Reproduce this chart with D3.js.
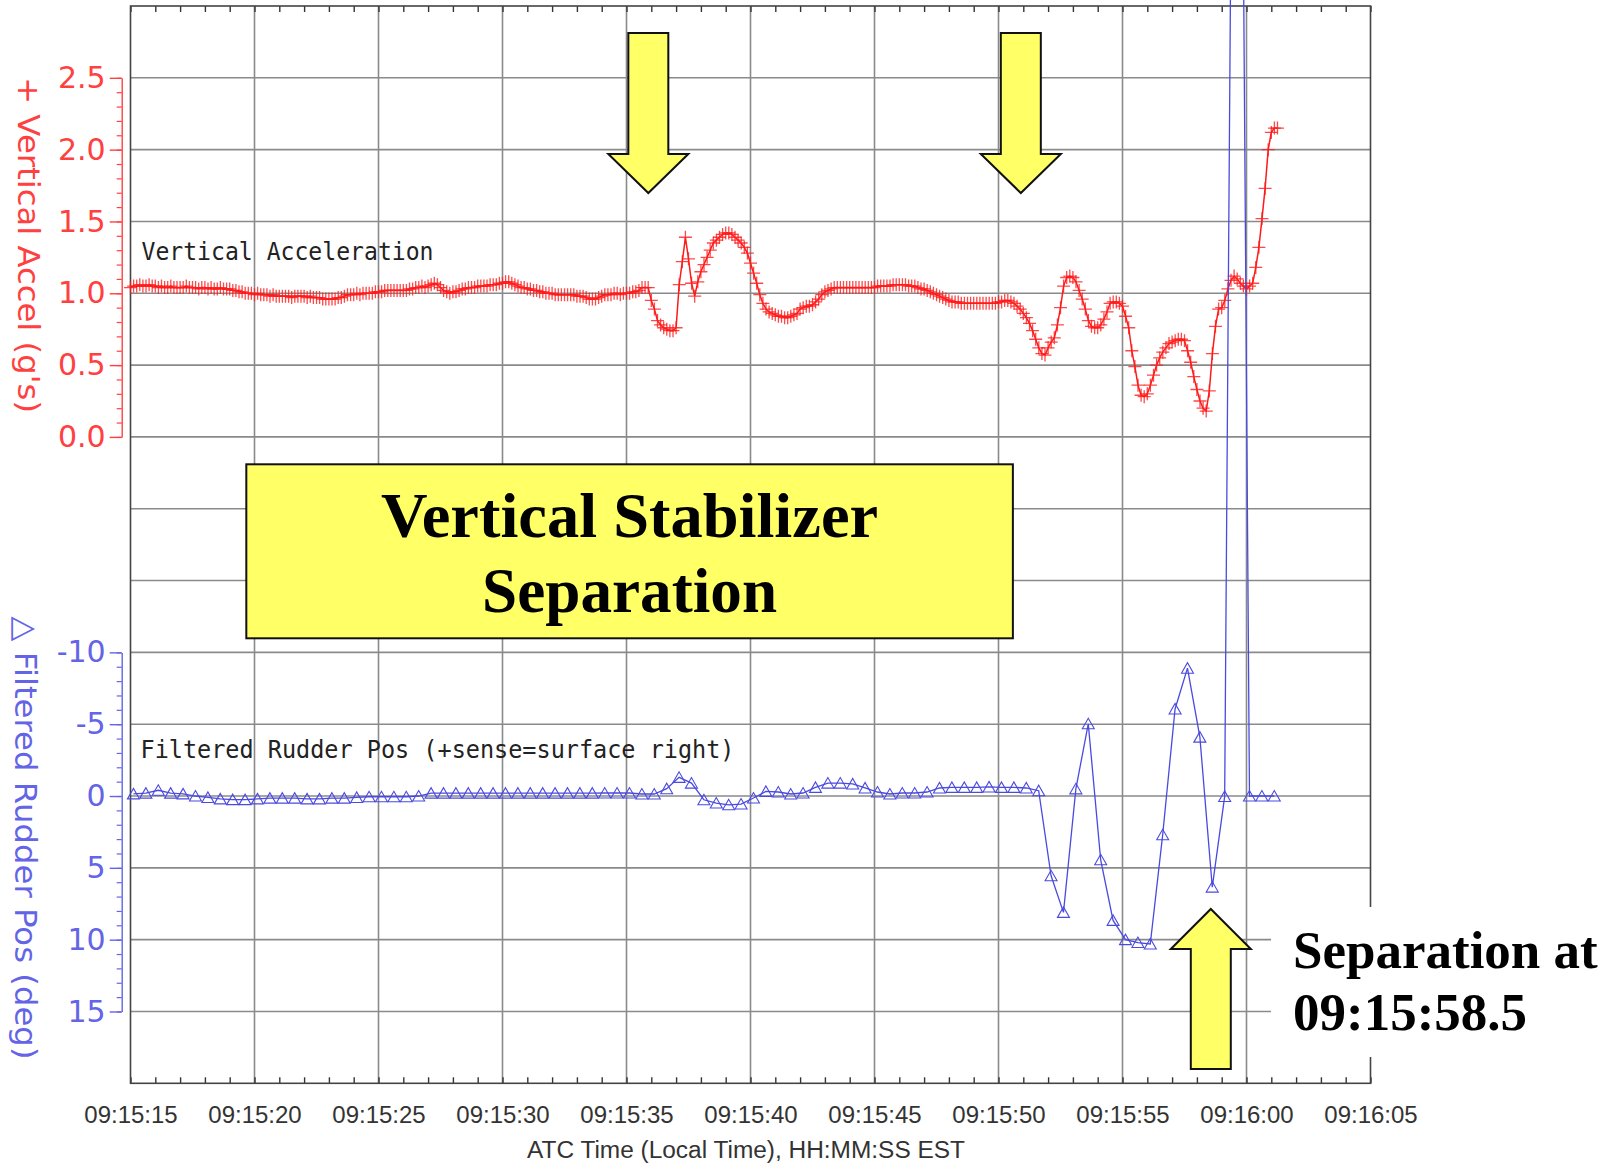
<!DOCTYPE html>
<html>
<head>
<meta charset="utf-8">
<title>Vertical Stabilizer Separation</title>
<script src="https://cdn.jsdelivr.net/npm/d3@7"></script>
<style>
  body { margin: 0; background: #fff; }
  svg { display: block; }
</style>
</head>
<body>
<svg id="chart" width="1619" height="1167"></svg>
<script>
// time axis: seconds after 09:15:15
const xTickSeconds = [0, 5, 10, 15, 20, 25, 30, 35, 40, 45, 50];
const xTickLabels = ["09:15:15", "09:15:20", "09:15:25", "09:15:30", "09:15:35", "09:15:40",
                     "09:15:45", "09:15:50", "09:15:55", "09:16:00", "09:16:05"];
const accTicks = [0, 0.5, 1, 1.5, 2, 2.5];
const rudTicks = [-10, -5, 0, 5, 10, 15];

// vertical acceleration (g), 8 samples per second from 09:15:15.0
const accStart = 0, accRate = 8;
const accValues = [
  1.04,1.05,1.05,1.06,1.05,1.05,1.06,1.05,
  1.05,1.04,1.05,1.04,1.04,1.05,1.04,1.04,
  1.04,1.04,1.05,1.04,1.04,1.04,1.03,1.04,
  1.04,1.03,1.04,1.03,1.03,1.04,1.03,1.03,
  1.03,1.02,1.02,1.01,1.01,1.00,1.00,1.00,
  0.99,1.00,0.99,0.99,0.99,0.98,0.99,0.98,
  0.98,0.98,0.98,0.98,0.97,0.98,0.98,0.98,
  0.98,0.97,0.98,0.97,0.97,0.97,0.96,0.96,
  0.96,0.96,0.96,0.97,0.97,0.98,0.99,0.99,
  0.99,1.00,0.99,1.00,1.00,1.00,1.00,1.01,
  1.01,1.01,1.02,1.02,1.02,1.02,1.02,1.02,
  1.02,1.02,1.03,1.03,1.04,1.04,1.05,1.04,
  1.05,1.06,1.07,1.06,1.04,1.02,1.01,1.00,
  1.01,1.01,1.02,1.03,1.03,1.04,1.04,1.04,
  1.05,1.05,1.05,1.05,1.06,1.06,1.06,1.07,
  1.07,1.08,1.08,1.07,1.06,1.05,1.04,1.04,
  1.03,1.03,1.02,1.02,1.01,1.01,1.00,1.00,
  1.00,0.99,0.99,0.99,0.99,0.99,0.99,0.99,
  0.98,0.98,0.98,0.97,0.96,0.96,0.96,0.97,
  0.98,0.99,0.99,0.99,1.00,1.00,0.99,1.00,
  1.00,1.00,1.01,1.01,1.02,1.04,1.04,1.04,
  0.95,0.89,0.81,0.78,0.76,0.75,0.74,0.74,
  0.76,1.06,1.22,1.39,1.24,1.07,0.98,1.08,
  1.15,1.20,1.25,1.30,1.35,1.37,1.39,1.41,
  1.42,1.42,1.41,1.39,1.37,1.35,1.32,1.28,
  1.21,1.14,1.07,0.99,0.93,0.89,0.87,0.86,
  0.85,0.84,0.84,0.83,0.83,0.84,0.85,0.86,
  0.89,0.90,0.91,0.91,0.92,0.94,0.96,0.99,
  1.01,1.02,1.03,1.04,1.04,1.04,1.04,1.04,
  1.04,1.04,1.04,1.04,1.04,1.04,1.04,1.04,
  1.04,1.05,1.05,1.05,1.05,1.05,1.06,1.06,
  1.06,1.06,1.06,1.05,1.05,1.05,1.04,1.03,
  1.03,1.02,1.01,1.00,0.99,0.98,0.97,0.96,
  0.95,0.94,0.94,0.94,0.93,0.93,0.93,0.93,
  0.93,0.93,0.93,0.93,0.93,0.93,0.93,0.93,
  0.94,0.94,0.95,0.95,0.94,0.93,0.91,0.89,
  0.86,0.83,0.79,0.74,0.68,0.62,0.58,0.57,
  0.62,0.66,0.69,0.78,0.90,1.05,1.11,1.12,
  1.11,1.08,1.02,0.96,0.89,0.81,0.77,0.76,
  0.76,0.78,0.82,0.87,0.93,0.94,0.94,0.93,
  0.91,0.84,0.76,0.60,0.49,0.36,0.29,0.28,
  0.30,0.36,0.43,0.50,0.55,0.59,0.62,0.65,
  0.66,0.67,0.68,0.68,0.67,0.60,0.52,0.42,
  0.33,0.25,0.20,0.18,0.32,0.58,0.77,0.89,
  0.90,0.95,1.03,1.09,1.12,1.10,1.07,1.05,
  1.03,1.05,1.07,1.18,1.32,1.52,1.73,2.00,
  2.12,2.15,2.15
];

// filtered rudder position (deg), 2 samples per second from 09:15:15.12
const rudStart = 0.12, rudRate = 2;
const rudValues = [
  -0.15,-0.2,-0.4,-0.2,-0.15, 0.0,0.1,0.2,0.25,0.25,
  0.2,0.15,0.15,0.15,0.2, 0.2,0.15,0.15,0.1,0.05,
  0.05,0.05,0.05,0.0,-0.2, -0.2,-0.2,-0.2,-0.2,-0.2,
  -0.2,-0.2,-0.2,-0.2,-0.2, -0.2,-0.2,-0.2,
  -0.21,-0.21,-0.21,-0.14,-0.14,-0.51,-1.30,-0.90,0.26,0.49,
  0.61,0.56,0.14,-0.32,-0.28,-0.14,-0.21,-0.60,-0.90,-0.90,
  -0.84,-0.56,-0.28,-0.14,-0.21,-0.21,-0.28,-0.56,-0.60,-0.60,
  -0.60,-0.63,-0.60,-0.60,-0.56,-0.37,
  5.55,8.1,-0.5,-5.03,4.44,8.66,10.0,10.2,10.3,2.7,
  -6.06,-8.9,-4.1,6.34,0.03,-120,0,0,0
];

// annotation arrows (seconds after 09:15:15)
const arrowTimes = [20.88, 35.9];
const separationTime = 43.5;

const svg = d3.select('#chart');
const pL = 130.5, pR = 1370.5, pT = 6, pB = 1083.3;
const rowH = (pB - pT) / 15;

const x = d3.scaleLinear().domain([0, 50]).range([pL, pR]);
const yAcc = d3.scaleLinear().domain([0, 3]).range([pT + 6 * rowH, pT]);
const yRud = d3.scaleLinear().domain([-10, 20]).range([pT + 9 * rowH, pB]);

const red = '#ff1a1a', blue = '#4a4ae0';
const sans = '"Liberation Sans", Arial, sans-serif';

// grid
const grid = svg.append('g').attr('stroke', '#8a8a8a').attr('stroke-width', 1.6);
grid.selectAll('.h').data(d3.range(-4, 2.6, 0.5)).enter().append('line')
  .attr('x1', pL).attr('x2', pR)
  .attr('y1', d => yAcc(d)).attr('y2', d => yAcc(d));
grid.selectAll('.v').data(d3.range(5, 50, 5)).enter().append('line')
  .attr('y1', pT).attr('y2', pB)
  .attr('x1', d => x(d)).attr('x2', d => x(d));

// minor time ticks, top and bottom, pointing inward
const tb = svg.append('g').attr('transform', `translate(0,${pB})`)
  .call(d3.axisBottom(x).tickValues(d3.range(0, 51)).tickSize(-6).tickSizeOuter(0).tickFormat(''));
const tt = svg.append('g').attr('transform', `translate(0,${pT})`)
  .call(d3.axisTop(x).tickValues(d3.range(0, 51)).tickSize(-6).tickSizeOuter(0).tickFormat(''));
[tb, tt].forEach(g => {
  g.select('.domain').remove();
  g.selectAll('line').attr('stroke', '#333').attr('stroke-width', 1.4);
});

// time labels
const xl = svg.append('g').attr('transform', `translate(0,${pB})`)
  .call(d3.axisBottom(x).tickValues(xTickSeconds).tickSize(0).tickPadding(23)
    .tickFormat((d, i) => xTickLabels[i]));
xl.select('.domain').remove();
xl.selectAll('text').attr('font-family', sans).attr('font-size', 24).attr('fill', '#333');

// frame
svg.append('rect').attr('x', pL).attr('y', pT)
  .attr('width', pR - pL).attr('height', pB - pT)
  .attr('fill', 'none').attr('stroke', '#444').attr('stroke-width', 1.6);

// y axes
const axX = 121.7;
function yAxis(scale, lo, hi, ticks, minorStep, fmt, color) {
  const s = scale.copy().domain([lo, hi]).range([scale(lo), scale(hi)]);
  const g = svg.append('g').attr('transform', `translate(${axX},0)`)
    .call(d3.axisLeft(s).tickValues(ticks).tickSize(12).tickSizeOuter(0).tickPadding(4).tickFormat(fmt));
  g.select('.domain').attr('stroke', color).attr('stroke-width', 1.4);
  g.selectAll('line').attr('stroke', color).attr('stroke-width', 1.4);
  g.selectAll('text').attr('font-family', '"DejaVu Sans", sans-serif').attr('font-size', 30)
    .attr('fill', color);
  const m = svg.append('g').attr('transform', `translate(${axX},0)`)
    .call(d3.axisLeft(s).tickValues(d3.range(lo, hi + minorStep / 2, minorStep)).tickSize(5).tickFormat(''));
  m.select('.domain').remove();
  m.selectAll('line').attr('stroke', color).attr('stroke-width', 1.2);
}
yAxis(yAcc, 0, 2.5, accTicks, 0.1, d3.format('.1f'), '#ff4040');
yAxis(yRud, -10, 15, rudTicks, 1, d => String(d), '#6464e6');

// axis titles
svg.append('text').attr('transform', `translate(18,245) rotate(90)`)
  .attr('text-anchor', 'middle').attr('font-family', '"DejaVu Sans", sans-serif')
  .attr('font-size', 31).attr('fill', '#ff4040')
  .attr('textLength', 336).attr('lengthAdjust', 'spacingAndGlyphs')
  .text("+ Vertical Accel (g's)");
svg.append('text').attr('transform', `translate(15,838) rotate(90)`)
  .attr('text-anchor', 'middle').attr('font-family', '"DejaVu Sans", sans-serif')
  .attr('font-size', 31).attr('fill', '#6464e6')
  .attr('textLength', 443).attr('lengthAdjust', 'spacingAndGlyphs')
  .text('\u25B3 Filtered Rudder Pos (deg)');
svg.append('text').attr('x', 746).attr('y', 1158).attr('text-anchor', 'middle')
  .attr('font-family', sans).attr('font-size', 23).attr('fill', '#333')
  .attr('textLength', 438).attr('lengthAdjust', 'spacingAndGlyphs')
  .text('ATC Time (Local Time), HH:MM:SS EST');

// series labels
const mono = '"DejaVu Sans Mono", "Liberation Mono", monospace';
svg.append('text').attr('x', pL + 11).attr('y', 260)
  .attr('font-family', mono).attr('font-size', 25).attr('fill', '#222')
  .attr('textLength', 292).attr('lengthAdjust', 'spacingAndGlyphs')
  .text('Vertical Acceleration');
svg.append('text').attr('x', pL + 10).attr('y', 757.7)
  .attr('font-family', mono).attr('font-size', 25).attr('fill', '#222')
  .attr('textLength', 594).attr('lengthAdjust', 'spacingAndGlyphs')
  .text('Filtered Rudder Pos (+sense=surface right)');

// data
const acc = accValues.map((v, i) => ({ t: accStart + i / accRate, v }));
const rud = rudValues.map((v, i) => ({ t: rudStart + i / rudRate, v }));

svg.append('path').datum(acc)
  .attr('d', d3.line().x(d => x(d.t)).y(d => yAcc(d.v)))
  .attr('fill', 'none').attr('stroke', red).attr('stroke-width', 1.5);
svg.append('g').selectAll('path').data(acc).enter().append('path')
  .attr('d', d => {
    const px = x(d.t), py = yAcc(d.v);
    return `M${px - 6.5},${py}H${px + 6.5}M${px},${py - 6.5}V${py + 6.5}`;
  })
  .attr('stroke', red).attr('stroke-width', 1.3).attr('stroke-opacity', 0.8).attr('fill', 'none');

svg.append('path').datum(rud)
  .attr('d', d3.line().x(d => x(d.t)).y(d => yRud(d.v)))
  .attr('fill', 'none').attr('stroke', blue).attr('stroke-width', 1.3);
svg.append('g').selectAll('path').data(rud).enter().append('path')
  .attr('d', d => {
    const px = x(d.t), py = yRud(d.v);
    return `M${px - 6},${py + 5}L${px},${py - 5.5}L${px + 6},${py + 5}Z`;
  })
  .attr('stroke', blue).attr('stroke-width', 1.1).attr('fill', 'none');

// yellow title box
const yellow = '#ffff66';
svg.append('rect').attr('x', x(4.67)).attr('y', 464.3)
  .attr('width', x(35.58) - x(4.67)).attr('height', 174)
  .attr('fill', yellow).attr('stroke', '#111').attr('stroke-width', 2);
const serif = '"Liberation Serif", "Times New Roman", serif';
const boxC = (x(4.67) + x(35.58)) / 2;
svg.append('text').attr('x', boxC).attr('y', 536.7).attr('text-anchor', 'middle')
  .attr('font-family', serif).attr('font-weight', 'bold').attr('font-size', 64)
  .attr('textLength', 497).attr('lengthAdjust', 'spacingAndGlyphs')
  .text('Vertical Stabilizer');
svg.append('text').attr('x', boxC).attr('y', 611.7).attr('text-anchor', 'middle')
  .attr('font-family', serif).attr('font-weight', 'bold').attr('font-size', 64)
  .attr('textLength', 295).attr('lengthAdjust', 'spacingAndGlyphs')
  .text('Separation');

// arrows
function arrowPath(cx, yStart, yHead, yTip) {
  const sw = 20, hw = 40;
  return `M${cx - sw},${yStart}H${cx + sw}V${yHead}H${cx + hw}L${cx},${yTip}L${cx - hw},${yHead}H${cx - sw}Z`;
}
arrowTimes.forEach(t => {
  svg.append('path').attr('d', arrowPath(x(t), 33, 154, 193))
    .attr('fill', yellow).attr('stroke', '#111').attr('stroke-width', 2).attr('stroke-linejoin', 'miter');
});

// separation callout
svg.append('rect').attr('x', 1271).attr('y', 907).attr('width', 348).attr('height', 150).attr('fill', '#fff');
svg.append('path').attr('d', arrowPath(x(separationTime) + 1.5, 1069, 949, 909))
  .attr('fill', yellow).attr('stroke', '#111').attr('stroke-width', 2);
svg.append('text').attr('x', 1293).attr('y', 968)
  .attr('font-family', serif).attr('font-weight', 'bold').attr('font-size', 53)
  .text('Separation at');
svg.append('text').attr('x', 1293).attr('y', 1030)
  .attr('font-family', serif).attr('font-weight', 'bold').attr('font-size', 53)
  .text('09:15:58.5');
</script>
</body>
</html>
